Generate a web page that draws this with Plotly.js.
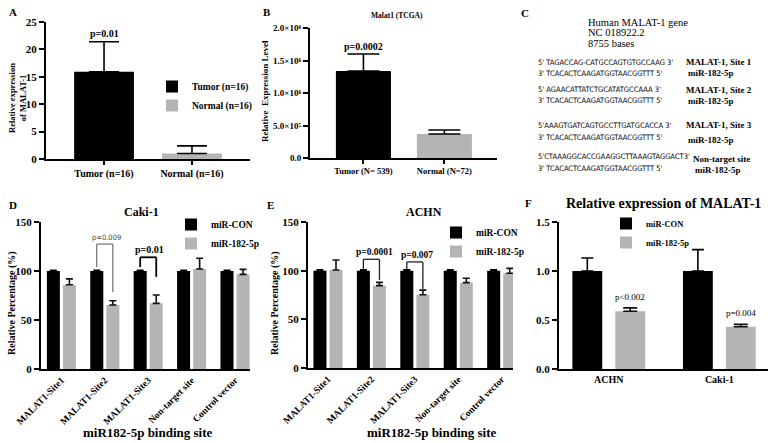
<!DOCTYPE html>
<html>
<head>
<meta charset="utf-8">
<script src="https://cdn.plot.ly/plotly-3.0.1.min.js"></script>
<style>html,body{margin:0;padding:0;background:#fff;}#chart{width:773px;height:443px;}</style>
</head>
<body>
<div id="chart"></div>
<script>
// ---------- data ----------
const catsA = ['Tumor (n=16)', 'Normal (n=16)'];
const meanA = [15.9, 1.0];
const errA = [5.5, 1.4];

const catsB = ['Tumor (N= 539)', 'Normal (N=72)'];
const meanB = [1338000, 370000];
const errB = [262000, 60000];
const tickValsB = [0, 500000, 1000000, 1500000, 2000000];
const tickTextB = ['0.0', '5.0×10⁵', '1.0×10⁶', '1.5×10⁶', '2.0×10⁶'];

const sites = ['MALAT1-Site1', 'MALAT1-Site2', 'MALAT1-Site3', 'Non-target site', 'Control vector'];
const conD = [100, 100, 100, 100, 100];
const conDerr = [0.8, 0.8, 0.8, 0.8, 0.8];
const mirD = [86, 65.3, 67, 102, 96.6];
const mirDerr = [6, 4.4, 8.5, 11, 5.1];

const conE = [100, 100, 100, 100, 100];
const conEerr = [0.8, 0.8, 0.8, 0.8, 0.8];
const mirE = [100.7, 84.6, 75.3, 87.7, 97.3];
const mirEerr = [10.3, 3.4, 4.7, 4.5, 5.1];

const cellsF = ['ACHN', 'Caki-1'];
const conF = [1.0, 1.0];
const conFerr = [0.133, 0.218];
const mirF = [0.59, 0.431];
const mirFerr = [0.034, 0.024];

// significance brackets: [site index, bracket level, left leg end, right leg end, label]
const sigD = [[1, 127.5, 104, 78.5, 'p=0.009'], [2, 114, 104, 94, 'p=0.01']];
const sigE = [[1, 111.7, 101.7, 90.4, 'p=0.0001'], [2, 109, 101.7, 81, 'p=0.007']];
const pF = ['p<0.002', 'p=0.004'];
const pA = 'p=0.01';
const pB = 'p=0.0002';

// panel C sequences
const seqC = [
  ["5' TAGACCAG-CATGCCAGTGTGCCAAG 3'", "3' TCACACTCAAGATGGTAACGGTTT 5'", 'MALAT-1, Site 1', 'miR-182-5p'],
  ["5' AGAACATTATCTGCATATGCCAAA 3'", "3' TCACACTCAAGATGGTAACGGTTT 5'", 'MALAT-1, Site 2', 'miR-182-5p'],
  ["5'AAAGTGATCAGTGCCTTGATGCACCA 3'", "3' TCACACTCAAGATGGTAACGGTTT 5'", 'MALAT-1, Site 3', 'miR-182-5p'],
  ["5'CTAAAGGCACCGAAGGCTTAAAGTAGGACT3'", "3' TCACACTCAAGATGGTAACGGTTT 5'", 'Non-target site', 'miR-182-5p']
];
const headC = ['Human MALAT-1 gene', 'NC 018922.2', '8755 bases'];

// ---------- style ----------
const W = 773, H = 443;
const px = v => v / W;
const py = v => 1 - v / H;
const SERIF = 'Liberation Serif, Times New Roman, serif';
const NARROW = 'DejaVu Sans Condensed, Liberation Sans Narrow, Liberation Serif, serif';
const BLACK = '#000000', GRAY = '#b4b4b4';
const bold = (size) => ({family: SERIF, size: size, color: '#000', weight: 'bold'});
const reg = (size) => ({family: SERIF, size: size, color: '#000'});

const wD = 0.30, gD = 0.07;      // bar width & gap for D/E
const wF = 0.27, gF = 0.118;     // for F
const offCon = (w, g) => -(w + g / 2);
const offMir = (w, g) => g / 2;

function errBar(arr, color, width) {
  return {type: 'data', array: arr, arrayminus: arr.map(() => 0), symmetric: false,
          color: color, thickness: 1.6, width: width, visible: true};
}

const traces = [];
// A
traces.push({type: 'bar', x: [catsA[0]], y: [meanA[0]], name: 'Tumor (n=16)', xaxis: 'x', yaxis: 'y',
  width: 0.68, marker: {color: BLACK}, error_y: errBar([errA[0]], BLACK, 15), legend: 'legend'});
traces.push({type: 'bar', x: [catsA[1]], y: [meanA[1]], name: 'Normal (n=16)', xaxis: 'x', yaxis: 'y',
  width: 0.68, marker: {color: GRAY}, error_y: errBar([errA[1]], BLACK, 15), legend: 'legend'});
// B
traces.push({type: 'bar', x: [catsB[0]], y: [meanB[0]], name: 'Tumor', xaxis: 'x2', yaxis: 'y2',
  width: 0.68, marker: {color: BLACK}, error_y: errBar([errB[0]], BLACK, 16), showlegend: false});
traces.push({type: 'bar', x: [catsB[1]], y: [meanB[1]], name: 'Normal', xaxis: 'x2', yaxis: 'y2',
  width: 0.68, marker: {color: GRAY}, error_y: errBar([errB[1]], BLACK, 16), showlegend: false});
// D
traces.push({type: 'bar', x: sites, y: conD, name: 'miR-CON', xaxis: 'x3', yaxis: 'y3',
  width: wD, offset: offCon(wD, gD), marker: {color: BLACK}, error_y: errBar(conDerr, BLACK, 3.5), legend: 'legend2'});
traces.push({type: 'bar', x: sites, y: mirD, name: 'miR-182-5p', xaxis: 'x3', yaxis: 'y3',
  width: wD, offset: offMir(wD, gD), marker: {color: GRAY}, error_y: errBar(mirDerr, '#111', 3.5), legend: 'legend2'});
// E
traces.push({type: 'bar', x: sites, y: conE, name: 'miR-CON', xaxis: 'x4', yaxis: 'y4',
  width: wD, offset: offCon(wD, gD), marker: {color: BLACK}, error_y: errBar(conEerr, BLACK, 3.5), legend: 'legend3'});
traces.push({type: 'bar', x: sites, y: mirE, name: 'miR-182-5p', xaxis: 'x4', yaxis: 'y4',
  width: wD, offset: offMir(wD, gD), marker: {color: GRAY}, error_y: errBar(mirEerr, '#111', 3.5), legend: 'legend3'});
// F
traces.push({type: 'bar', x: cellsF, y: conF, name: 'miR-CON', xaxis: 'x5', yaxis: 'y5',
  width: wF, offset: offCon(wF, gF), marker: {color: BLACK}, error_y: errBar(conFerr, BLACK, 6), legend: 'legend4'});
traces.push({type: 'bar', x: cellsF, y: mirF, name: 'miR-182-5p', xaxis: 'x5', yaxis: 'y5',
  width: wF, offset: offMir(wF, gF), marker: {color: GRAY}, error_y: errBar(mirFerr, '#111', 7), legend: 'legend4'});

function xax(domain, range, cats, font, extra) {
  return Object.assign({domain: domain, range: range, type: 'category', categoryorder: 'array', categoryarray: cats,
    showline: true, linewidth: 2, linecolor: '#000', showgrid: false, zeroline: false,
    ticks: 'outside', ticklen: 4, tickwidth: 2, tickcolor: '#000', tickfont: font, fixedrange: true}, extra || {});
}
function yax(domain, range, font, extra) {
  return Object.assign({domain: domain, range: range, showline: true, linewidth: 2, linecolor: '#000',
    showgrid: false, zeroline: false, ticks: 'outside', ticklen: 5, tickwidth: 2, tickcolor: '#000',
    tickfont: font, fixedrange: true}, extra || {});
}

const layout = {
  width: W, height: H, margin: {l: 0, r: 0, t: 0, b: 0},
  paper_bgcolor: '#fff', plot_bgcolor: 'rgba(0,0,0,0)',
  barmode: 'overlay', showlegend: true,
  xaxis: xax([px(46), px(250)], [-0.66, 1.66], catsA, bold(10), {anchor: 'y'}),
  yaxis: yax([py(159), py(22)], [0, 25], bold(11), {anchor: 'x', dtick: 5}),
  xaxis2: xax([px(310), px(497)], [-0.66, 1.65], catsB, bold(8.5), {anchor: 'y2'}),
  yaxis2: yax([py(158), py(28)], [0, 2000000], bold(9), {anchor: 'x2', tickvals: tickValsB, ticktext: tickTextB}),
  xaxis3: xax([px(41), px(250)], [-0.47, 4.345], sites, bold(9.5), {anchor: 'y3', tickangle: -45, ticks: ''}),
  yaxis3: yax([py(369), py(222)], [0, 150], bold(11), {anchor: 'x3', dtick: 50}),
  xaxis4: xax([px(308), px(513)], [-0.46, 4.26], sites, bold(9.5), {anchor: 'y4', tickangle: -45, ticks: ''}),
  yaxis4: yax([py(368), py(222)], [0, 150], bold(11), {anchor: 'x4', dtick: 50}),
  xaxis5: xax([px(559), px(768)], [-0.45, 1.44], cellsF, bold(10), {anchor: 'y5', ticks: ''}),
  yaxis5: yax([py(369), py(222)], [0, 1.5], bold(11), {anchor: 'x5', dtick: 0.5, tickformat: '.1f'}),
  legend: {x: px(152), y: py(72), xanchor: 'left', yanchor: 'top', bgcolor: 'rgba(0,0,0,0)', font: bold(9.5)},
  legend2: {x: px(171), y: py(210), xanchor: 'left', yanchor: 'top', bgcolor: 'rgba(0,0,0,0)', font: bold(9.5)},
  legend3: {x: px(436), y: py(218), xanchor: 'left', yanchor: 'top', bgcolor: 'rgba(0,0,0,0)', font: bold(9.5)},
  legend4: {x: px(606), y: py(209), xanchor: 'left', yanchor: 'top', bgcolor: 'rgba(0,0,0,0)', font: bold(8.5)},
  annotations: [],
  shapes: []
};

const ann = layout.annotations;
function txt(x, y, text, font, extra) {
  ann.push(Object.assign({xref: 'paper', yref: 'paper', x: px(x), y: py(y), text: text, showarrow: false,
    font: font, xanchor: 'center', yanchor: 'middle'}, extra || {}));
}
// panel letters
txt(13, 12, 'A', bold(11)); txt(267, 12, 'B', bold(11)); txt(525, 13, 'C', bold(11));
txt(13, 205, 'D', bold(11)); txt(270, 205, 'E', bold(11)); txt(528, 203, 'F', bold(11));
// titles
txt(397, 15, 'Malat1 (TCGA)', bold(7.5));
txt(141, 212, 'Caki-1', bold(12));
txt(424, 212, 'ACHN', bold(12));
txt(663, 203, 'Relative expression of MALAT-1', bold(14));
// axis titles
txt(17, 98, 'Relative expression<br>of MALAT-1', bold(8.5), {textangle: -90});
txt(265, 91, 'Relative  Expression Level', bold(9), {textangle: -90});
txt(12, 303, 'Relative Percentage (%)', bold(10), {textangle: -90});
txt(275, 303, 'Relative Percentage (%)', bold(10), {textangle: -90});
txt(148, 432, 'miR182-5p binding site', bold(13));
txt(432, 432, 'miR182-5p binding site', bold(13));
// panel C
headC.forEach((t, i) => txt(586, 22 + i * 10.5, t, reg(10.5), {xanchor: 'left'}));
const rowsC = [[62, 74], [90, 101], [125, 137], [156, 168]];
const labYC = [[62, 73], [90, 101], [125, 140], [159, 170]];
const labXC = [684, 684, 684, 691];
const seqFont = {family: NARROW, size: 7.5, color: '#000'};
seqC.forEach((s, i) => {
  txt(536, rowsC[i][0], s[0], seqFont, {xanchor: 'left'});
  txt(536, rowsC[i][1], s[1], seqFont, {xanchor: 'left'});
  txt(labXC[i], labYC[i][0], s[2], bold(9), {xanchor: 'left'});
  txt(labXC[i] + 2, labYC[i][1], s[3], bold(9), {xanchor: 'left'});
});
// p-values A, B
ann.push({xref: 'x', yref: 'y', x: catsA[0], y: meanA[0] + errA[0], text: pA, showarrow: false,
  font: bold(10), yanchor: 'bottom', yshift: 1});
ann.push({xref: 'x2', yref: 'y2', x: catsB[0], y: meanB[0] + errB[0], text: pB, showarrow: false,
  font: bold(10), yanchor: 'bottom', yshift: 0});
// p-values F
cellsF.forEach((c, i) => {
  ann.push({xref: 'x5', yref: 'y5', x: i + offMir(wF, gF) + wF / 2, y: mirF[i] + mirFerr[i], text: pF[i],
    showarrow: false, font: reg(9), yanchor: 'bottom', yshift: 4});
});
// brackets D/E
function brackets(sig, xr, yr, styles, shifts) {
  sig.forEach((s, k) => {
    const xl = s[0] + offCon(wD, gD) + wD / 2;
    const xrr = s[0] + offMir(wD, gD) + wD / 2;
    const line = styles[k];
    layout.shapes.push({type: 'line', xref: xr, yref: yr, x0: xl, x1: xl, y0: s[2], y1: s[1], line: line});
    layout.shapes.push({type: 'line', xref: xr, yref: yr, x0: xl, x1: xrr, y0: s[1], y1: s[1], line: line});
    layout.shapes.push({type: 'line', xref: xr, yref: yr, x0: xrr, x1: xrr, y0: s[1], y1: s[3], line: line});
    ann.push({xref: xr, yref: yr, x: (xl + xrr) / 2, y: s[1], text: s[4], showarrow: false,
      font: shifts[k].font, yanchor: 'bottom', xshift: shifts[k].dx, yshift: 0});
  });
}
brackets(sigD, 'x3', 'y3', [{color: '#555', width: 1}, {color: '#000', width: 1.8}],
  [{dx: 2, font: {family: NARROW, size: 7.5, color: '#444'}}, {dx: 1, font: bold(10)}]);
brackets(sigE, 'x4', 'y4', [{color: '#222', width: 1.3}, {color: '#222', width: 1.3}],
  [{dx: 3, font: bold(9.5)}, {dx: 2, font: bold(9.5)}]);

Plotly.newPlot('chart', traces, layout, {staticPlot: true, displayModeBar: false});
</script>
</body>
</html>
